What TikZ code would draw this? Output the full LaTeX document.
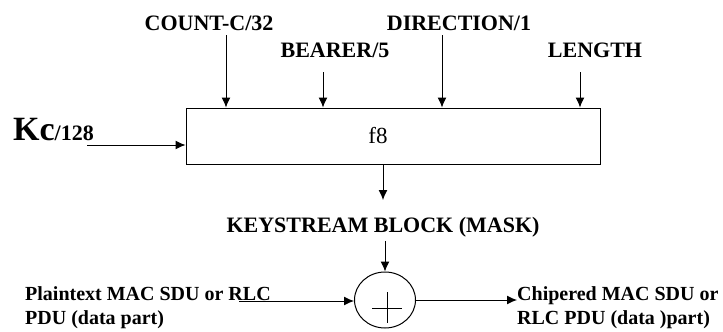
\documentclass[tikz,border=0pt]{standalone}
\usepackage{fontspec}
\setmainfont{Liberation Serif}
\usetikzlibrary{arrows.meta,shapes.geometric}
\tikzset{
  lbl/.style={font=\fontsize{22}{26}\selectfont\bfseries,inner sep=0pt},
  small/.style={font=\fontsize{20}{24}\selectfont\bfseries,inner sep=0pt,align=left},
  arr/.style={line width=1pt,-{Latex[length=10pt,width=9pt]}}
}
\begin{document}
\begin{tikzpicture}[x=1pt,y=-1pt]
    \useasboundingbox (0,0) rectangle (723,332);
    % the f8 block
    \node[draw,line width=1pt,minimum width=414pt,minimum height=56pt,inner sep=0pt] (box) at (393,136) {};
    \node[font=\fontsize{23}{26}\selectfont,inner sep=0pt] (f8) at (378,136) {f8};

    % inputs from above
    \node[lbl,anchor=base] (count) at (209,30) {COUNT-C/32};
    \node[lbl,anchor=base] (bearer) at (335,57) {BEARER/5};
    \node[lbl,anchor=base] (dir) at (459,30) {DIRECTION/1};
    \node[lbl,anchor=base] (len) at (595,57) {LENGTH};
    \coordinate (cin) at (226,35);
    \coordinate (bin) at (323,72);
    \coordinate (din) at (442,35);
    \coordinate (lin) at (580,72);
    \foreach \c in {cin,bin,din,lin}{
      \draw[arr] (\c) -- (\c |- box.north);
    }

    % key
    \node[inner sep=0pt,anchor=base west] (kc) at (13,140)
      {\fontsize{34}{36}\selectfont\bfseries Kc\fontsize{22}{26}\selectfont/128};
    \coordinate (kin) at (87,145);
    \draw[arr] (kin) -- (kin -| box.west);

    % keystream
    \coordinate (ktip) at (383,200);
    \draw[arr] (ktip |- box.south) -- (ktip);
    \node[lbl,anchor=base] (ks) at (383,232) {KEYSTREAM BLOCK (MASK)};

    % xor
    \node[draw,ellipse,line width=1pt,minimum width=61pt,minimum height=56pt,inner sep=0pt] (xor) at (385,300) {};
    \draw[line width=1pt] (372,308) -- (402,308) (387,292) -- (387,323);
    \draw[arr] (xor.north |- ks.south) ++(0,4) -- (xor.north);

    \node[small,anchor=north west] (plain) at (25,286) {Plaintext MAC SDU or RLC\\PDU (data part)};
    \node[small,anchor=north west] (chip) at (517,286) {Chipered MAC SDU or\\RLC PDU (data )part)};
    \coordinate (pin) at (239,301);
    \draw[arr] (pin) -- (pin -| xor.west);
    \draw[arr] (xor.east) -- (xor.east -| chip.west);
\end{tikzpicture}
\end{document}
